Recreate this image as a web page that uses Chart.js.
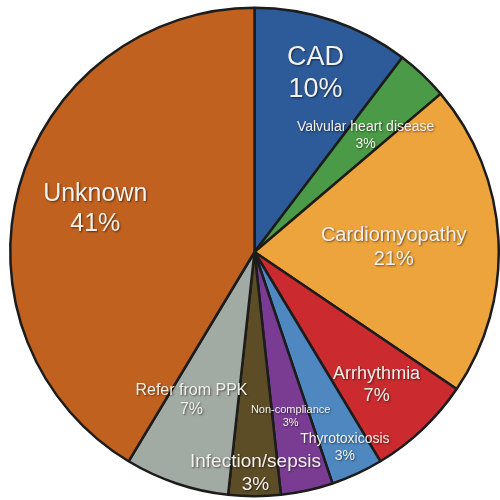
<!DOCTYPE html>
<html>
<head>
<meta charset="utf-8">
<script src="https://cdn.jsdelivr.net/npm/chart.js@4"></script>
<style>
  html, body { margin: 0; padding: 0; background: #fff; }
  #wrap { width: 500px; height: 500px; }
</style>
</head>
<body>
<div id="wrap"><canvas id="pie"></canvas></div>
<script>
// causes (counts of patients), clockwise from 12 o'clock
const categories = ['CAD', 'Valvular heart disease', 'Cardiomyopathy', 'Arrhythmia',
    'Thyrotoxicosis', 'Non-compliance', 'Infection/sepsis', 'Refer from PPK', 'Unknown'];
const counts = [3, 1, 6, 2, 1, 1, 1, 2, 12];
const colors = ['#2d5b9a', '#4b9a47', '#eea43c', '#cb2b2f', '#4f88c1',
    '#7a3c93', '#5d4d27', '#a2aaa4', '#c0611f'];

// label placement: offset from centre as a fraction of the radius, plus font size
const labelPos = [
    [0.25, -0.73, 27], [0.455, -0.475, 14], [0.57, -0.02, 20], [0.50, 0.545, 18],
    [0.37, 0.80, 14], [0.148, 0.672, 11], [0.004, 0.905, 19], [-0.258, 0.607, 16],
    [-0.652, -0.176, 25]
];

const total = counts.reduce((a, b) => a + b, 0);

const sliceLabels = {
    id: 'sliceLabels',
    afterDatasetsDraw(chart) {
        const ctx = chart.ctx;
        const arcs = chart.getDatasetMeta(0).data;
        ctx.save();
        arcs.forEach((arc, i) => {
            const r = arc.outerRadius;
            const x = arc.x + labelPos[i][0] * r;
            const y = arc.y + labelPos[i][1] * r;
            const size = labelPos[i][2];
            const pct = Math.round(counts[i] / total * 100) + '%';
            ctx.font = size + 'px "Liberation Sans", Arial, sans-serif';
            ctx.textAlign = 'center';
            ctx.textBaseline = 'middle';
            ctx.fillStyle = '#f4f1ec';
            ctx.shadowColor = 'rgba(0,0,0,0.55)';
            ctx.shadowBlur = 2;
            ctx.shadowOffsetX = 1;
            ctx.shadowOffsetY = 1;
            const gap = size * 0.6;
            ctx.fillText(categories[i], x, y - gap);
            ctx.fillText(pct, x, y + gap);
        });
        ctx.restore();
    }
};

new Chart(document.getElementById('pie'), {
    type: 'pie',
    data: {
        labels: categories,
        datasets: [{
            data: counts,
            backgroundColor: colors,
            borderColor: '#1c1c1c',
            borderWidth: 2.5
        }]
    },
    options: {
        responsive: true,
        maintainAspectRatio: false,
        animation: false,
        layout: { padding: { left: 9, right: 0, top: 5, bottom: 1 } },
        plugins: {
            legend: { display: false },
            tooltip: { enabled: false }
        }
    },
    plugins: [sliceLabels]
});
</script>
</body>
</html>
